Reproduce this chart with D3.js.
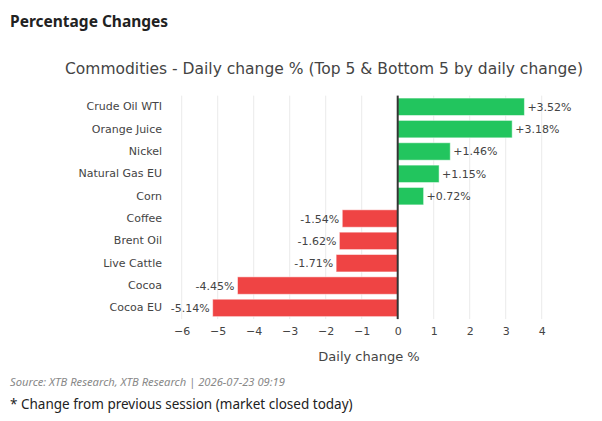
<!DOCTYPE html>
<html lang="en">
<head>
    <meta charset="UTF-8">
    <title>Percentage Changes</title>
    <script src="https://d3js.org/d3.v7.min.js"></script>
    <style>
        body {
            margin: 0;
            background: #fff;
            font-family: "Noto Sans", "Open Sans", sans-serif;
        }

        .header {
            font-size: 15.5px;
            font-weight: bold;
            fill: #222;
        }

        .chart-text {
            font-family: "DejaVu Sans", Verdana, sans-serif;
            fill: #444;
        }

        .grid line {
            stroke: #ebebeb;
            stroke-width: 1px;
        }
    </style>
</head>
<body>
    <svg width="602" height="421"></svg>
    <script>
        // data, listed top to bottom as drawn
        const categories = ["Crude Oil WTI", "Orange Juice", "Nickel", "Natural Gas EU", "Corn",
            "Coffee", "Brent Oil", "Live Cattle", "Cocoa", "Cocoa EU"];
        const changes = [3.52, 3.18, 1.46, 1.15, 0.72, -1.54, -1.62, -1.71, -4.45, -5.14];
        const xTicks = [-6, -5, -4, -3, -2, -1, 0, 1, 2, 3, 4];

        const svg = d3.select("svg");
        const rows = categories.map((c, i) => ({ name: c, value: changes[i] }));

        // header + titles
        svg.append("text").attr("class", "header")
            .attr("x", 10).attr("y", 27)
            .text("Percentage Changes");

        svg.append("text").attr("class", "chart-text")
            .attr("x", 324).attr("y", 74)
            .attr("text-anchor", "middle")
            .style("font-size", "15.5px")
            .text("Commodities - Daily change % (Top 5 & Bottom 5 by daily change)");

        // scales
        const x = d3.scaleLinear().domain([-6.2, 4.9]).range([174.5, 574.1]);
        const y = d3.scaleBand().domain(categories).range([95.6, 319.1]).paddingInner(0.22).paddingOuter(0.11);

        // gridlines
        svg.append("g").attr("class", "grid")
            .selectAll("line").data(xTicks.filter(t => t !== 0)).join("line")
            .attr("x1", d => x(d)).attr("x2", d => x(d))
            .attr("y1", 95.6).attr("y2", 319.1);

        // bars
        svg.append("g").selectAll("rect").data(rows).join("rect")
            .attr("x", d => x(Math.min(0, d.value)))
            .attr("width", d => Math.abs(x(d.value) - x(0)))
            .attr("y", d => y(d.name))
            .attr("height", y.bandwidth())
            .attr("fill", d => d.value >= 0 ? "#22c55e" : "#ef4444")
            .attr("stroke", "rgba(255,255,255,0.5)")
            .attr("stroke-width", 1);

        // value labels
        svg.append("g").selectAll("text").data(rows).join("text")
            .attr("class", "chart-text")
            .attr("x", d => d.value >= 0 ? x(d.value) + 3 : x(d.value) - 3)
            .attr("y", d => y(d.name) + y.bandwidth() / 2 + 4)
            .attr("text-anchor", d => d.value >= 0 ? "start" : "end")
            .style("font-size", "11px")
            .text(d => (d.value >= 0 ? "+" : "") + d.value.toFixed(2) + "%");

        // zero line
        svg.append("line")
            .attr("x1", x(0)).attr("x2", x(0))
            .attr("y1", 95.6).attr("y2", 319.1)
            .attr("stroke", "#333").attr("stroke-width", 2);

        // y axis labels
        const yAxis = svg.append("g").attr("transform", "translate(162,0)")
            .call(d3.axisLeft(y).tickSize(0).tickPadding(0));
        yAxis.select(".domain").remove();
        yAxis.selectAll("text").attr("class", "chart-text").style("font-size", "11px").attr("fill", null);

        // x axis
        const xAxis = svg.append("g").attr("transform", "translate(0,319)")
            .call(d3.axisBottom(x).tickValues(xTicks).tickSize(0).tickPadding(8)
                .tickFormat(d => d < 0 ? "\u2212" + Math.abs(d) : d));
        xAxis.select(".domain").remove();
        xAxis.selectAll("text").attr("class", "chart-text").style("font-size", "11px").attr("fill", null);

        svg.append("text").attr("class", "chart-text")
            .attr("x", 369).attr("y", 361)
            .attr("text-anchor", "middle")
            .style("font-size", "13px")
            .text("Daily change %");

        // footer
        svg.append("text")
            .attr("x", 10).attr("y", 386)
            .style("font-size", "11.2px").style("font-style", "italic")
            .attr("fill", "#888")
            .text("Source: XTB Research, XTB Research | 2026-07-23 09:19");

        svg.append("text")
            .attr("x", 10).attr("y", 409)
            .style("font-size", "13.5px")
            .attr("fill", "#222")
            .text("* Change from previous session (market closed today)");
    </script>
</body>
</html>
